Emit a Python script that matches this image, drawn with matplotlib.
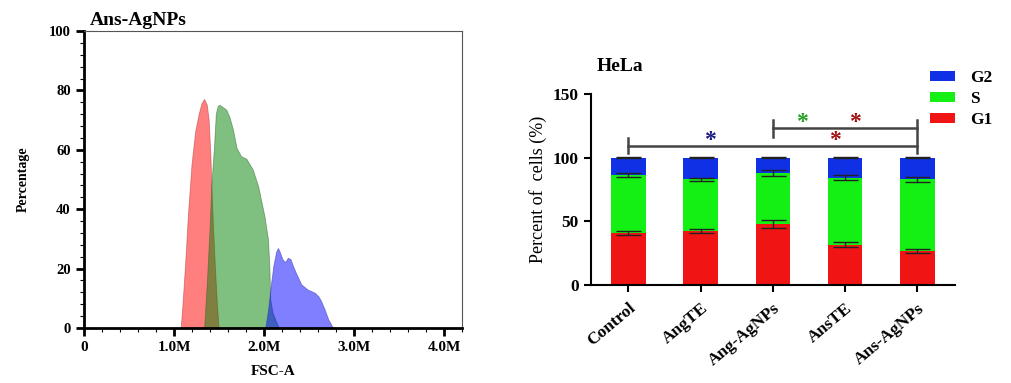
import numpy as np
import matplotlib.pyplot as plt
from matplotlib.ticker import MultipleLocator

plt.rcParams['font.family'] = ['Liberation Serif', 'DejaVu Serif']

# ---- left panel: FSC-A histograms (x in millions) ----
red_x = [1.08, 1.10, 1.13, 1.16, 1.20, 1.24, 1.28, 1.31, 1.34, 1.37, 1.39, 1.41, 1.42, 1.44, 1.46, 1.48, 1.50]
red_y = [0, 8, 22, 38, 55, 66, 72, 75.5, 77, 75, 70, 58, 48, 33, 20, 9, 0]

green_x = [1.34, 1.37, 1.40, 1.42, 1.45, 1.47, 1.49, 1.51, 1.585, 1.62, 1.66, 1.70, 1.75, 1.81,
           1.88, 1.94, 2.01, 2.05, 2.065, 2.075, 2.10, 2.14, 2.17]
green_y = [0, 15, 33, 48, 61, 72, 74.5, 75, 73.4, 71, 66.7, 60.5, 57.7, 56.8,
           53.2, 47.6, 37.5, 29.6, 20, 9.4, 5, 2, 0]

blue_x = [2.02, 2.05, 2.08, 2.11, 2.14, 2.16, 2.18, 2.21, 2.24, 2.27, 2.30, 2.33, 2.36, 2.42,
          2.49, 2.57, 2.61, 2.64, 2.68, 2.72, 2.77]
blue_y = [0, 6, 14, 21, 25.5, 26.8, 25.5, 23, 22, 23.5, 23, 20.5, 18.4, 14.5,
          12.8, 11.7, 10.5, 8.9, 6, 2.7, 0]

fsc_ticks = [0, 1, 2, 3, 4]
fsc_labels = ["0", "1.0M", "2.0M", "3.0M", "4.0M"]

# ---- right panel: HeLa cell cycle ----
groups = ["Control", "AngTE", "Ang-AgNPs", "AnsTE", "Ans-AgNPs"]
g1 = [41, 42.5, 48, 31.5, 26.5]
s_phase = [45.5, 40.5, 40, 53, 56.5]
g2 = [13.5, 17, 12, 15.5, 17]
g1_err = [1.6, 1.6, 3.3, 2.0, 1.7]
s_err = [1.3, 1.2, 2.2, 2.2, 2.0]
g2_err = [0.3, 0.3, 0.3, 0.3, 0.3]

fig = plt.figure(figsize=(10.11, 3.83), dpi=100)

# =========================
# Left: histogram overlay
# =========================
ax1 = fig.add_axes([0.0831, 0.1436, 0.3739, 0.7754])
ax1.fill(red_x, red_y, facecolor='#ff0000', alpha=0.5, edgecolor='#b03030', lw=0.6)
ax1.fill(green_x, green_y, facecolor='#008000', alpha=0.5, edgecolor='#306030', lw=0.6)
ax1.fill(blue_x, blue_y, facecolor='#0000ff', alpha=0.5, edgecolor='#3030a0', lw=0.6)
ax1.set_xlim(0, 4.2)
ax1.set_ylim(0, 100)
ax1.set_xticks(fsc_ticks)
ax1.set_xticklabels(fsc_labels, fontweight='bold', fontsize=11)
ax1.xaxis.set_minor_locator(MultipleLocator(0.2))
ax1.yaxis.set_major_locator(MultipleLocator(20))
ax1.yaxis.set_minor_locator(MultipleLocator(4))
for lab in ax1.get_yticklabels():
    lab.set_fontweight('bold')
    lab.set_fontsize(10.5)
ax1.tick_params(which='major', direction='out', length=6, width=2)
ax1.tick_params(which='minor', direction='out', length=3, width=0.8)
ax1.spines['left'].set_linewidth(2)
ax1.spines['bottom'].set_linewidth(2)
for side in ['top', 'right']:
    ax1.spines[side].set_linewidth(0.8)
    ax1.spines[side].set_color('#555555')
ax1.set_xlabel("FSC-A", fontweight='bold', fontsize=11, labelpad=8)
ax1.set_ylabel("Percentage", fontweight='bold', fontsize=10, labelpad=14)
fig.text(0.089, 0.925, "Ans-AgNPs", fontweight='bold', fontsize=14, ha='left', va='bottom')

# =========================
# Right: stacked bars
# =========================
ax2 = fig.add_axes([0.5843, 0.2559, 0.3603, 0.4979])
xpos = np.arange(len(groups))
w = 0.48
b1 = np.array(g1)
b2 = b1 + np.array(s_phase)
b3 = b2 + np.array(g2)
ax2.bar(xpos, g1, w, color='#f01414', label='G1', zorder=2)
ax2.bar(xpos, s_phase, w, bottom=b1, color='#14f014', label='S', zorder=2)
ax2.bar(xpos, g2, w, bottom=b2, color='#1030e6', label='G2', zorder=2)
ax2.errorbar(xpos, b1, yerr=g1_err, fmt='none', ecolor='#222222', capsize=9, elinewidth=1, capthick=1, zorder=3)
ax2.errorbar(xpos, b2, yerr=s_err, fmt='none', ecolor='#222222', capsize=9, elinewidth=1, capthick=1, zorder=3)
ax2.errorbar(xpos, b3, yerr=g2_err, fmt='none', ecolor='#222222', capsize=9, elinewidth=1, capthick=1, zorder=3)

ax2.set_xlim(-0.52, 4.52)
ax2.set_ylim(0, 150)
ax2.set_yticks([0, 50, 100, 150])
ax2.set_yticklabels(["0", "50", "100", "150"], fontweight='bold', fontsize=12.5)
ax2.set_xticks(xpos)
ax2.set_xticklabels(groups, rotation=40, ha='right', rotation_mode='anchor',
                    fontweight='bold', fontsize=12.5)
ax2.spines['top'].set_visible(False)
ax2.spines['right'].set_visible(False)
ax2.spines['left'].set_linewidth(1.5)
ax2.spines['bottom'].set_linewidth(1.5)
ax2.tick_params(direction='out', length=5, width=1.5)
ax2.tick_params(axis='x', pad=6)
ax2.set_ylabel("Percent of  cells (%)", fontsize=13, labelpad=4)

# significance brackets
bcol = '#444444'
ax2.plot([0, 4], [109.3, 109.3], color=bcol, lw=1.8, clip_on=False)
ax2.plot([0, 0], [103.6, 115.8], color=bcol, lw=1.8, clip_on=False)
ax2.plot([2, 4], [123.2, 123.2], color=bcol, lw=1.8, clip_on=False)
ax2.plot([2, 2], [116.6, 129.8], color=bcol, lw=1.8, clip_on=False)
ax2.plot([4, 4], [103.6, 129.8], color=bcol, lw=1.8, clip_on=False)
ax2.text(1.13, 113.5, "*", color='#1a1a80', fontsize=17, fontweight='bold', ha='center', va='center')
ax2.text(2.86, 113.5, "*", color='#a01010', fontsize=17, fontweight='bold', ha='center', va='center')
ax2.text(2.40, 127.5, "*", color='#20a020', fontsize=17, fontweight='bold', ha='center', va='center')
ax2.text(3.13, 127.5, "*", color='#a01010', fontsize=17, fontweight='bold', ha='center', va='center')

fig.text(0.590, 0.803, "HeLa", fontweight='bold', fontsize=14, ha='left', va='bottom')

handles, labels = ax2.get_legend_handles_labels()
fig.legend(handles[::-1], labels[::-1], loc='upper left', bbox_to_anchor=(0.904, 0.857),
           frameon=False, prop={'weight': 'bold', 'size': 12.5},
           handlelength=1.45, handleheight=0.55, labelspacing=0.28, handletextpad=0.9)

fig.savefig("out.png", dpi=100)
